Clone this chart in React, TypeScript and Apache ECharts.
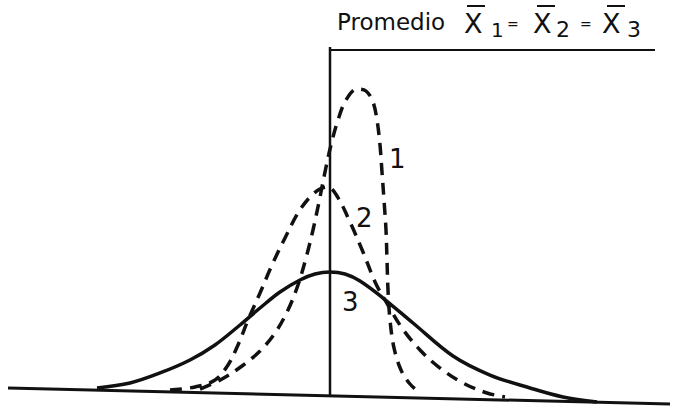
import React, { useEffect, useRef } from "react";
import * as echarts from "echarts";

// x: distance from the common mean (arbitrary units), y: frequency (arbitrary units)
const baseline: [number, number][] = [[-6.44, 2.0], [6.8, -2.57]];
const meanLine: [number, number][] = [[0, -0.29], [0, 99.43]];
const meanTop: [number, number][] = [[0, 98.57], [6.5, 98.57]];

const curve1: [number, number][] = [
  [-2.6, 1.71], [-2.16, 4.57], [-1.76, 8.29], [-1.4, 12.57], [-1.1, 17.71], [-0.84, 24.29],
  [-0.64, 31.43], [-0.48, 39.14], [-0.34, 47.14], [-0.22, 55.14], [-0.1, 63.71], [0.02, 71.43],
  [0.16, 78.57], [0.32, 84.29], [0.54, 87.43], [0.72, 86.86], [0.86, 83.71], [0.94, 78.57],
  [1.0, 71.43], [1.04, 63.71], [1.08, 55.71], [1.12, 47.14], [1.14, 38.57], [1.16, 30.0],
  [1.2, 21.43], [1.28, 13.43], [1.42, 7.14], [1.6, 3.14], [1.8, 0.57],
];

const curve2: [number, number][] = [
  [-3.2, 1.43], [-2.7, 2.29], [-2.3, 4.29], [-2.04, 8.57], [-1.84, 14.29], [-1.64, 21.43],
  [-1.4, 29.14], [-1.16, 37.14], [-0.9, 44.86], [-0.64, 52.0], [-0.4, 56.57], [-0.2, 58.86],
  [-0.04, 59.43], [0.14, 56.86], [0.4, 49.43], [0.66, 40.86], [0.92, 31.71], [1.16, 25.71],
  [1.44, 19.14], [1.8, 12.86], [2.2, 7.71], [2.66, 3.43], [3.14, 0.57], [3.5, -0.57],
];

const curve3: [number, number][] = [
  [-4.66, 2.0], [-4.0, 3.43], [-3.4, 6.29], [-2.8, 10.0], [-2.3, 14.29], [-1.8, 20.0],
  [-1.4, 24.86], [-1.0, 29.43], [-0.6, 32.86], [-0.3, 34.57], [0, 35.14], [0.3, 34.57],
  [0.6, 32.57], [1.06, 27.71], [1.66, 20.57], [2.46, 11.14], [3.2, 5.71], [4.0, 2.0],
  [4.66, -0.57], [5.34, -2.0],
];

const curveLabels = ["1", "2", "3"];
const titleWord = "Promedio";
const meanSymbol = "X";
const subscripts = ["1", "2", "3"];
const equalSign = "=";

const INK = "#111";

export default function App() {
  const ref = useRef<HTMLDivElement>(null);
  useEffect(() => {
    if (!ref.current) return;
    const chart = echarts.init(ref.current, undefined, { renderer: "svg" });
    const font = "DejaVu Sans, sans-serif";
    const txt = (text: string, x: number, y: number, size: number) => ({
      type: "text",
      x,
      y,
      style: {
        text,
        fill: INK,
        font: `${size}px ${font}`,
        textAlign: "left",
        textVerticalAlign: "middle",
      },
    });
    const bar = (x1: number, x2: number, y: number) => ({
      type: "line",
      shape: { x1, y1: y, x2, y2: y },
      style: { stroke: INK, lineWidth: 2 },
    });
    const lineSeries = (data: [number, number][], width: number, dashed: boolean, smooth: number | boolean) => ({
      type: "line",
      data,
      smooth,
      symbol: "none",
      silent: true,
      lineStyle: { color: INK, width, type: dashed ? [12, 8] : "solid", cap: "butt" },
    });
    chart.setOption({
      animation: false,
      backgroundColor: "#fff",
      grid: { left: 0, right: 0, top: 45, bottom: 0 },
      xAxis: { type: "value", min: -6.6, max: 6.94, show: false },
      yAxis: { type: "value", min: -4, max: 100, show: false },
      series: [
        lineSeries(baseline, 3, false, false),
        lineSeries(meanLine, 2.5, false, false),
        lineSeries(meanTop, 2, false, false),
        lineSeries(curve3, 3.5, false, 0.35),
        lineSeries(curve2, 3.5, true, 0.35),
        lineSeries(curve1, 3.5, true, 0.35),
      ],
      graphic: [
        txt(titleWord, 337, 22, 23),
        txt(meanSymbol, 464, 23, 27),
        txt(subscripts[0], 491, 30, 20),
        txt(equalSign, 507, 24, 14),
        txt(meanSymbol, 533, 23, 27),
        txt(subscripts[1], 556, 29, 22),
        txt(equalSign, 580, 24, 14),
        txt(meanSymbol, 602, 23, 27),
        txt(subscripts[2], 627, 29, 22),
        bar(467, 485, 6),
        bar(537, 555, 6),
        bar(607, 625, 6),
        txt(curveLabels[0], 389, 159, 26),
        txt(curveLabels[1], 356, 218, 26),
        txt(curveLabels[2], 342, 302, 26),
      ],
    });
    return () => chart.dispose();
  }, []);
  return <div ref={ref} style={{ position: "fixed", left: 0, top: 0, width: 677, height: 409 }} />;
}
